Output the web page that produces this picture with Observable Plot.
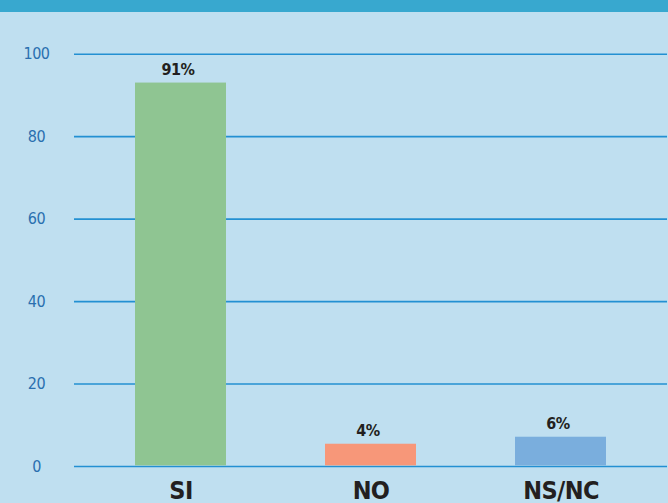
<!DOCTYPE html>
<html>
<head>
<meta charset="utf-8">
<script src="https://cdn.jsdelivr.net/npm/d3@7"></script>
<script src="https://cdn.jsdelivr.net/npm/@observablehq/plot@0.6"></script>
<style>
  html, body { margin: 0; padding: 0; background: #bfdff0; }
  #chart svg { display: block; }
  #chart g[aria-label="y-axis tick label"] text { letter-spacing: -0.5px; }
  #chart g[aria-label="x-axis tick label"] text { letter-spacing: -0.6px; }
  #chart g[aria-label="text"] text { letter-spacing: -0.5px; }
</style>
</head>
<body>
<div id="chart"></div>
<script>
const categories = ["SI", "NO", "NS/NC"];
const barValues = [93, 5.4, 7.1];
const valueLabels = ["91%", "4%", "6%"];
const barColors = ["#8fc592", "#f79779", "#7aaedd"];
const yTicks = [0, 20, 40, 60, 80, 100];

const data = categories.map((c, i) => ({category: c, value: barValues[i], label: valueLabels[i], color: barColors[i]}));

const fontFam = "'Liberation Sans Narrow', 'DejaVu Sans Condensed', 'Liberation Sans', sans-serif";

const chart = Plot.plot({
  width: 668,
  height: 503,
  marginLeft: 74,
  marginRight: 1,
  marginTop: 53.7,
  marginBottom: 37,
  style: {
    background: "linear-gradient(#38a8cf 0px, #38a8cf 12px, #bfdff0 12px)",
    fontFamily: fontFam,
    overflow: "visible"
  },
  x: {domain: categories, paddingInner: 0.522, paddingOuter: 0.3175, label: null},
  y: {domain: [0, 100], label: null},
  marks: [
    Plot.ruleY(yTicks, {stroke: "#2390d2", strokeWidth: 1.6}),
    Plot.barY(data, {x: "category", y1: 0.15, y2: "value", fill: "color"}),
    Plot.text(data, {x: "category", y: "value", text: "label", lineAnchor: "bottom", dy: -8, dx: -3,
      fontSize: 16, fontWeight: "bold", fill: "#231f20"}),
    Plot.axisY(yTicks, {tickSize: 0, tickPadding: 38, textAnchor: "middle", fontSize: 16, color: "#2a6faf", label: null}),
    Plot.axisX({tickSize: 0, tickPadding: 15, fontSize: 25, fontWeight: "bold", color: "#231f20", label: null})
  ]
});
document.getElementById("chart").appendChild(chart);
</script>
</body>
</html>
